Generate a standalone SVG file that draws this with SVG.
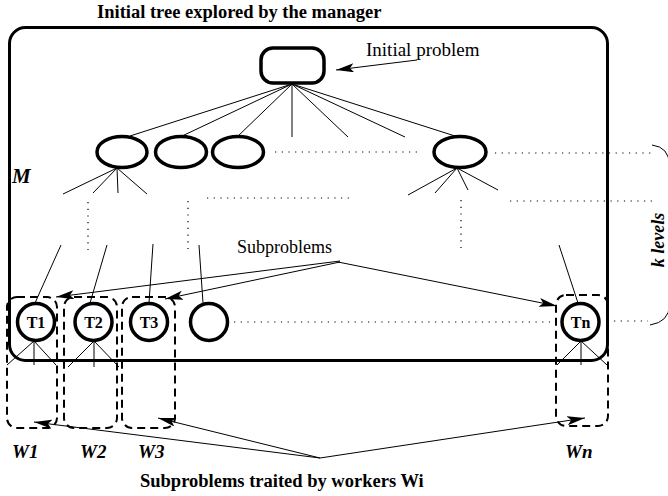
<svg xmlns="http://www.w3.org/2000/svg" width="668" height="496" viewBox="0 0 668 496">
  <style>
    .serif { font-family: "Liberation Serif", "Times New Roman", serif; fill: #000; }
    .b { font-weight: bold; }
    .bi { font-weight: bold; font-style: italic; }
    .thick { fill: none; stroke: #000; stroke-width: 3.5; }
    .edge { fill: none; stroke: #000; stroke-width: 1; }
    .dots { fill: none; stroke: #000; stroke-width: 1.2; stroke-dasharray: 1.2 5.5; }
    .dash { fill: none; stroke: #000; stroke-width: 2; stroke-dasharray: 8 5; }
    .arrow { fill: none; stroke: #000; stroke-width: 1; marker-end: url(#head); }
  </style>
  <defs>
    <marker id="head" markerUnits="userSpaceOnUse" markerWidth="20" markerHeight="10" refX="18" refY="4.5" orient="auto">
      <path d="M0,0 L18,4.5 L0,9 L4,4.5 z" fill="#000"/>
    </marker>
  </defs>

  <rect width="668" height="496" fill="#fff"/>

  <!-- manager frame -->
  <g id="manager">
    <rect x="9.5" y="27.5" width="598" height="333" rx="16" fill="none" stroke="#000" stroke-width="3"/>
    <text class="serif b" x="97" y="18" font-size="18.5">Initial tree explored by the manager</text>
    <text class="serif bi" x="12" y="183" font-size="21">M</text>
  </g>

  <!-- tree edges and level markers -->
  <g id="connectors">
    <!-- root to first level -->
    <line class="edge" x1="292" y1="84" x2="130" y2="136"/>
    <line class="edge" x1="292" y1="84" x2="180" y2="137"/>
    <line class="edge" x1="292" y1="84" x2="237" y2="137"/>
    <line class="edge" x1="292" y1="84" x2="292" y2="137"/>
    <line class="edge" x1="292" y1="84" x2="348" y2="137"/>
    <line class="edge" x1="292" y1="84" x2="405" y2="137"/>
    <line class="edge" x1="292" y1="84" x2="455" y2="136"/>
    <!-- first level fan-out -->
    <line class="edge" x1="117" y1="168" x2="63" y2="194"/>
    <line class="edge" x1="117" y1="168" x2="93" y2="193"/>
    <line class="edge" x1="117" y1="168" x2="118" y2="193"/>
    <line class="edge" x1="117" y1="168" x2="147" y2="194"/>
    <line class="edge" x1="457" y1="168" x2="408" y2="195"/>
    <line class="edge" x1="457" y1="168" x2="435" y2="193"/>
    <line class="edge" x1="457" y1="168" x2="468" y2="190"/>
    <line class="edge" x1="457" y1="168" x2="498" y2="190"/>
    <!-- last level -->
    <line class="edge" x1="61" y1="245" x2="35" y2="303"/>
    <line class="edge" x1="107" y1="245" x2="90" y2="303"/>
    <line class="edge" x1="153" y1="244" x2="149" y2="303"/>
    <line class="edge" x1="199" y1="245" x2="203" y2="303"/>
    <line class="edge" x1="559" y1="245" x2="578" y2="303"/>
    <!-- leaves under the subproblems -->
    <line class="edge" x1="34" y1="341" x2="7" y2="365"/>
    <line class="edge" x1="34" y1="341" x2="34" y2="365"/>
    <line class="edge" x1="34" y1="341" x2="56" y2="365"/>
    <line class="edge" x1="94" y1="341" x2="68" y2="367"/>
    <line class="edge" x1="94" y1="341" x2="94" y2="367"/>
    <line class="edge" x1="94" y1="341" x2="119" y2="367"/>
    <line class="edge" x1="581" y1="341" x2="557" y2="365"/>
    <line class="edge" x1="581" y1="341" x2="581" y2="365"/>
    <line class="edge" x1="581" y1="341" x2="607" y2="365"/>
    <!-- dotted continuation -->
    <line class="dots" x1="275" y1="152" x2="420" y2="152"/>
    <line class="dots" x1="495" y1="153" x2="652" y2="153"/>
    <line class="dots" x1="88" y1="202" x2="88" y2="250"/>
    <line class="dots" x1="188" y1="201" x2="188" y2="249"/>
    <line class="dots" x1="207" y1="198" x2="350" y2="198"/>
    <line class="dots" x1="461" y1="200" x2="461" y2="249"/>
    <line class="dots" x1="510" y1="201" x2="654" y2="201"/>
    <line class="dots" x1="234" y1="322" x2="550" y2="322"/>
    <line class="dots" x1="614" y1="321" x2="648" y2="321"/>
    <!-- k levels brace -->
    <path d="M652,145 Q669,147 669.5,165 L669.5,305 Q669,322 650,325" fill="none" stroke="#000" stroke-width="1"/>
    <!-- label arrows -->
    <line class="arrow" x1="417" y1="60" x2="336" y2="70"/>
    <line class="arrow" x1="340" y1="261" x2="56" y2="297"/>
    <line class="arrow" x1="340" y1="262" x2="165" y2="299"/>
    <line class="arrow" x1="338" y1="262" x2="557" y2="306"/>
    <line class="arrow" x1="320" y1="458" x2="34" y2="422"/>
    <line class="arrow" x1="320" y1="458" x2="158" y2="418"/>
    <line class="arrow" x1="320" y1="458" x2="585" y2="418"/>
  </g>

  <!-- root -->
  <g id="root">
    <rect class="thick" x="261" y="48" width="63" height="35" rx="12"/>
    <text class="serif" x="366" y="56" font-size="19">Initial problem</text>
  </g>

  <!-- first level nodes -->
  <g id="n1"><ellipse class="thick" cx="122" cy="152" rx="25" ry="15.5"/></g>
  <g id="n2"><ellipse class="thick" cx="181" cy="152" rx="25.5" ry="15.5"/></g>
  <g id="n3"><ellipse class="thick" cx="238" cy="152" rx="25.5" ry="15.5"/></g>
  <g id="n4"><ellipse class="thick" cx="460" cy="152" rx="26" ry="15.5"/></g>

  <!-- subproblems -->
  <g id="t1">
    <circle class="thick" cx="36" cy="322" r="18.5"/>
    <text class="serif b" x="36" y="328" font-size="16" text-anchor="middle">T1</text>
  </g>
  <g id="t2">
    <circle class="thick" cx="93.5" cy="322" r="18.5"/>
    <text class="serif b" x="93.5" y="328" font-size="16" text-anchor="middle">T2</text>
  </g>
  <g id="t3">
    <circle class="thick" cx="149" cy="322" r="18.5"/>
    <text class="serif b" x="149" y="328" font-size="16" text-anchor="middle">T3</text>
  </g>
  <g id="t4">
    <circle class="thick" cx="209" cy="322" r="18.5"/>
  </g>
  <g id="tn">
    <circle class="thick" cx="580.5" cy="322" r="18.5"/>
    <text class="serif b" x="580.5" y="328" font-size="16" text-anchor="middle">Tn</text>
  </g>
  <g id="subproblems-label">
    <text class="serif" x="237" y="253" font-size="18">Subproblems</text>
  </g>

  <!-- workers -->
  <g id="w1">
    <rect class="dash" x="7" y="297" width="50" height="131" rx="10"/>
    <text class="serif bi" x="12" y="458" font-size="19">W1</text>
  </g>
  <g id="w2">
    <rect class="dash" x="64" y="297" width="53" height="131" rx="10"/>
    <text class="serif bi" x="80" y="458" font-size="19">W2</text>
  </g>
  <g id="w3">
    <rect class="dash" x="122" y="297" width="53" height="131" rx="10"/>
    <text class="serif bi" x="138" y="458" font-size="19">W3</text>
  </g>
  <g id="wn">
    <rect class="dash" x="556" y="295" width="52" height="131" rx="10"/>
    <text class="serif bi" x="565" y="458" font-size="19">Wn</text>
  </g>

  <g id="labels">
    <text class="serif bi" transform="translate(664,240) rotate(-90)" font-size="18" text-anchor="middle">k levels</text>
    <text class="serif b" x="140" y="487" font-size="18.5">Subproblems traited by workers Wi</text>
  </g>
</svg>
